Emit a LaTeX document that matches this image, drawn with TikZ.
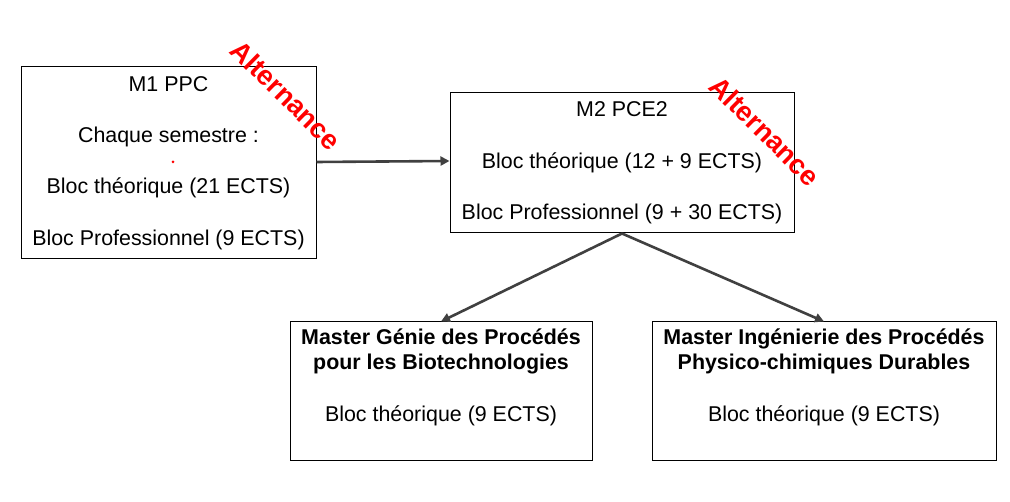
\documentclass[tikz,border=0pt]{standalone}
\usepackage{fontspec}
\setmainfont{Liberation Sans}
\usetikzlibrary{arrows.meta}
\definecolor{arrowgray}{HTML}{404040}
\tikzset{
  box/.style={draw=black, line width=1pt, align=center, inner sep=0pt,
    font=\fontsize{21.4}{25.7}\selectfont},
  conn/.style={draw=arrowgray, line width=2.6pt, -{Triangle[length=9pt,width=9pt]}},
  altlabel/.style={text=red, font=\bfseries\fontsize{27.5}{30}\selectfont, rotate=-44.5, inner sep=0pt}
}
\begin{document}
\begin{tikzpicture}[x=1pt,y=-1pt]
\useasboundingbox[fill=white] (0,0) rectangle (1010,502);
\node[box, minimum width=295pt, minimum height=192pt] (m1) at (168.5,163)
  {M1 PPC\\[25.7pt]Chaque semestre :\\[25.7pt]Bloc théorique (21 ECTS)\\[25.7pt]Bloc Professionnel (9 ECTS)};
\fill[red] (173,162) circle (1.5);
\node[box, minimum width=344pt, minimum height=140pt] (m2) at (622,163)
  {M2 PCE2\\[25.7pt]Bloc théorique (12 + 9 ECTS)\\[25.7pt]Bloc Professionnel (9 + 30 ECTS)};
\node[box, minimum width=302pt, minimum height=139pt] (bl) at (441,391.5)
  {\textbf{Master Génie des Procédés}\\\textbf{pour les Biotechnologies}\\[25.7pt]Bloc théorique (9 ECTS)\\\strut};
\node[box, minimum width=344pt, minimum height=139pt] (br) at (824,391.5)
  {\textbf{Master Ingénierie des Procédés}\\\textbf{Physico-chimiques Durables}\\[25.7pt]Bloc théorique (9 ECTS)\\\strut};
\node[altlabel] (alt1) at (286,95) {Alternance};
\node[altlabel] (alt2) at (765,131) {Alternance};
\draw[conn] (m1.east |- 0,162) -- (m2.west |- 0,161);
\draw[conn] (m2.south) -- (bl.north);
\draw[conn] (m2.south) -- (br.north);
\end{tikzpicture}
\end{document}
